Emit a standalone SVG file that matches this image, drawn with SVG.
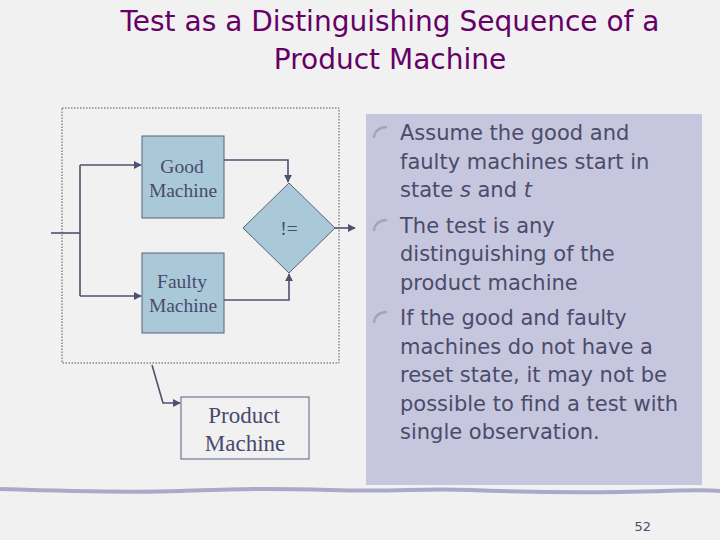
<svg xmlns="http://www.w3.org/2000/svg" width="720" height="540" viewBox="0 0 720 540">
<style>
.title{font-family:"DejaVu Sans","Liberation Sans",sans-serif;font-size:28px;fill:#660066;text-anchor:middle}
.box{fill:#a9c9d8;stroke:#5a6080;stroke-width:1}
.lbl{font-family:"Liberation Serif","Times New Roman",serif;font-size:19.5px;fill:#4a4a6e;text-anchor:middle}
.big{font-size:23px}
.conn{fill:none;stroke:#505070;stroke-width:1.6}
.bul{font-family:"DejaVu Sans","Liberation Sans",sans-serif;font-size:21px;fill:#4b4b6b}
.mark{fill:none;stroke:#a4a4b4;stroke-width:2.5;stroke-linecap:round}
</style>
<defs>
<marker id="arr" viewBox="0 0 10 10" refX="9" refY="5" markerWidth="5" markerHeight="5" orient="auto">
<path d="M0,0 L10,5 L0,10 z" fill="#505070"/>
</marker>
</defs>
<rect width="720" height="540" fill="#f1f1f1"/>
<g id="title">
<text class="title" x="390" y="31">Test as a Distinguishing Sequence of a</text>
<text class="title" x="390" y="69">Product Machine</text>
</g>
<rect id="frame" x="62" y="108" width="277" height="255" fill="none" stroke="#555" stroke-width="1" stroke-dasharray="1.5,1.5"/>
<g id="good">
<rect class="box" x="142" y="136" width="82" height="82"/>
<text class="lbl" x="182" y="173">Good</text>
<text class="lbl" x="183" y="197">Machine</text>
</g>
<g id="faulty">
<rect class="box" x="142" y="253" width="82" height="80"/>
<text class="lbl" x="182" y="288">Faulty</text>
<text class="lbl" x="183" y="312">Machine</text>
</g>
<g id="compare">
<polygon class="box" points="289,183 335,228 289,273 243,228"/>
<text class="lbl" x="289" y="235">!=</text>
</g>
<g id="product">
<rect x="181" y="397" width="128" height="62" fill="none" stroke="#5a6080" stroke-width="1"/>
<text class="lbl big" x="244" y="423">Product</text>
<text class="lbl big" x="245" y="451">Machine</text>
</g>
<g id="connectors">
<path class="conn" d="M51,233 H80"/>
<path class="conn" d="M80,165 V296"/>
<path class="conn" d="M80,165 H141" marker-end="url(#arr)"/>
<path class="conn" d="M80,296 H141" marker-end="url(#arr)"/>
<path class="conn" d="M224,160 H288 V182" marker-end="url(#arr)"/>
<path class="conn" d="M224,300 H289 V274" marker-end="url(#arr)"/>
<path class="conn" d="M335,228 H355" marker-end="url(#arr)"/>
<path class="conn" d="M152,365 L163,403 H180" marker-end="url(#arr)"/>
</g>
<g id="notes">
<rect x="366" y="114" width="336" height="371" fill="#c6c6de"/>
<path class="mark" d="M374,137 Q375,128 386,127"/>
<path class="mark" d="M374,230 Q375,221 386,220"/>
<path class="mark" d="M374,322 Q375,313 386,312"/>
<text class="bul" x="400" y="140">Assume the good and</text>
<text class="bul" x="400" y="169">faulty machines start in</text>
<text class="bul" x="400" y="197">state <tspan font-style="italic">s</tspan> and <tspan font-style="italic">t</tspan></text>
<text class="bul" x="400" y="233">The test is any</text>
<text class="bul" x="400" y="261">distinguishing of the</text>
<text class="bul" x="400" y="290">product machine</text>
<text class="bul" x="400" y="325">If the good and faulty</text>
<text class="bul" x="400" y="354">machines do not have a</text>
<text class="bul" x="400" y="382">reset state, it may not be</text>
<text class="bul" x="400" y="411">possible to find a test with</text>
<text class="bul" x="400" y="439">single observation.</text>
</g>
<path d="M0,489 C60,491 120,493 180,491 S260,488 330,490 S420,488 470,490 S560,493 620,492 S700,489 720,491" fill="none" stroke="#a9a9c9" stroke-width="4"/>
<text x="651" y="531" font-family="DejaVu Sans,sans-serif" font-size="13" fill="#4b4b6b" text-anchor="end">52</text>
</svg>
